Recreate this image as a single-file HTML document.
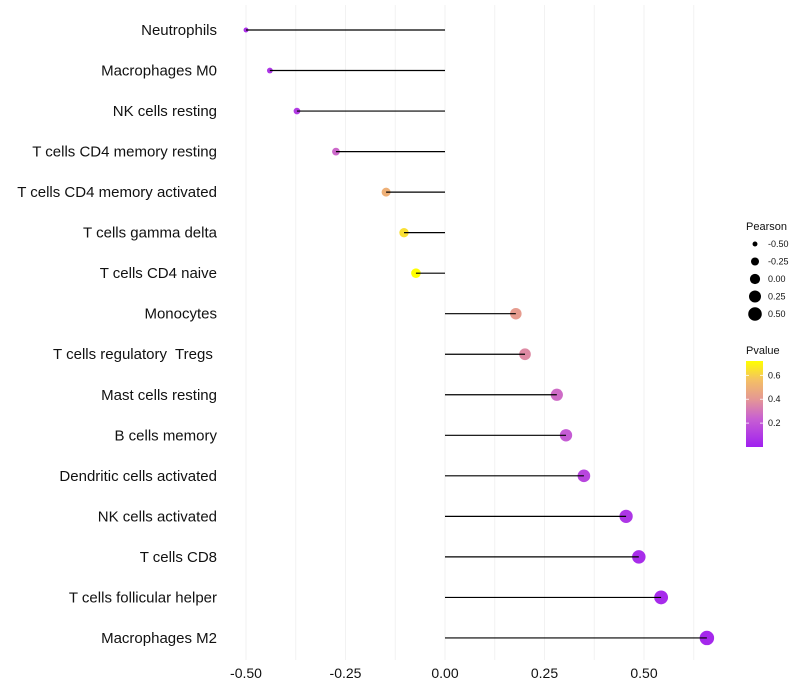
<!DOCTYPE html>
<html><head><meta charset="utf-8"><style>
body{margin:0;background:#fff;}
svg{display:block;font-family:"Liberation Sans",sans-serif;}
text{white-space:pre;}
</style></head><body>
<svg id="chart" width="800" height="700"></svg>
<script>
const categories=["Neutrophils","Macrophages M0","NK cells resting","T cells CD4 memory resting","T cells CD4 memory activated","T cells gamma delta","T cells CD4 naive","Monocytes","T cells regulatory  Tregs ","Mast cells resting","B cells memory","Dendritic cells activated","NK cells activated","T cells CD8","T cells follicular helper","Macrophages M2"];
const pearson=[-0.50,-0.44,-0.372,-0.274,-0.148,-0.103,-0.073,0.178,0.201,0.281,0.304,0.349,0.455,0.487,0.543,0.658];
const pvalue=[0.06,0.08,0.1,0.26,0.5,0.64,0.72,0.42,0.36,0.27,0.22,0.14,0.08,0.05,0.04,0.03];
const xTicks=[-0.5,-0.25,0,0.25,0.5];
const xTickLabels=["-0.50","-0.25","0.00","0.25","0.50"];
const sizeLegend=[-0.5,-0.25,0,0.25,0.5];
const sizeLegendLabels=["-0.50","-0.25","0.00","0.25","0.50"];
const pLegend=[0.2,0.4,0.6];

const NS="http://www.w3.org/2000/svg";
const svg=document.getElementById('chart');
const x=v=>445+v*398;
const y=i=>30+i*40.53;
const r=v=>Math.sqrt(Math.max(1,26+40*v));
const pMax=0.72;
const stops=[[0,[160,32,240]],[0.33,[200,96,210]],[0.55,[228,150,150]],[0.78,[244,192,100]],[1,[255,255,0]]];
function col(p){let t=Math.min(1,Math.max(0,p/pMax));for(let k=1;k<stops.length;k++){if(t<=stops[k][0]){const a=stops[k-1],b=stops[k],f=(t-a[0])/(b[0]-a[0]);const c=a[1].map((v,j)=>Math.round(v+(b[1][j]-v)*f));return `rgb(${c})`;}}return 'rgb(255,255,0)';}
function el(t,at,parent){const e=document.createElementNS(NS,t);for(const k in at)e.setAttribute(k,at[k]);(parent||svg).appendChild(e);return e;}

for(let g=-0.5;g<=0.66;g+=0.125){const l=el('line',{x1:x(g),x2:x(g),y1:5,y2:660,stroke:'#f2f2f2','stroke-width':1});

}

xTicks.forEach((v,i)=>{const t=el('text',{x:x(v),y:678,'text-anchor':'middle','font-size':14,fill:'#111'});t.textContent=xTickLabels[i];

});

categories.forEach((c,i)=>{
const t=el('text',{x:217,y:y(i)+5,'text-anchor':'end','font-size':15,fill:'#111'});t.textContent=c;


const p=el('circle',{cx:x(pearson[i]),cy:y(i),r:r(pearson[i]),fill:col(pvalue[i])});


const l=el('line',{x1:x(0),x2:x(pearson[i]),y1:y(i),y2:y(i),stroke:'#000','stroke-width':1.2});


});

const lt=el('text',{x:746,y:230,'font-size':11,fill:'#111'});lt.textContent='Pearson';


sizeLegend.forEach((v,i)=>{const cy=244+i*17.5;
const c=el('circle',{cx:755,cy:cy,r:r(v),fill:'#000'});


const t=el('text',{x:768,y:cy+3,'font-size':9,fill:'#111'});t.textContent=sizeLegendLabels[i];

});

const pt=el('text',{x:746,y:354,'font-size':11,fill:'#111'});pt.textContent='Pvalue';


const defs=el('defs',{});const gr=el('linearGradient',{id:'pg',x1:0,y1:1,x2:0,y2:0},defs);
stops.forEach(s=>el('stop',{offset:s[0],'stop-color':`rgb(${s[1]})`},gr));
const barTop=361,barBot=447,pv=v=>barBot-v/pMax*(barBot-barTop);
const bar=el('rect',{x:746,y:barTop,width:17,height:barBot-barTop,fill:'url(#pg)'});


pLegend.forEach(v=>{const yy=pv(v);
el('line',{x1:746,x2:749,y1:yy,y2:yy,stroke:'#fff','stroke-width':0.8});
el('line',{x1:760,x2:763,y1:yy,y2:yy,stroke:'#fff','stroke-width':0.8});
const t=el('text',{x:768,y:yy+3,'font-size':9,fill:'#111'});t.textContent=v.toFixed(1);

});
</script>
</body></html>
